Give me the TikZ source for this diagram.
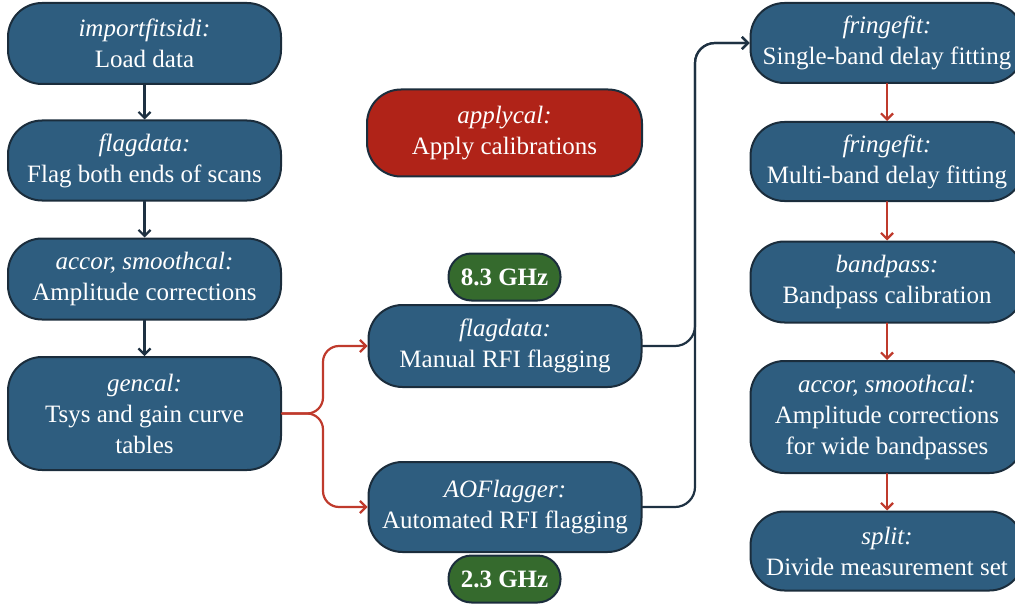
\documentclass[tikz,border=0pt]{standalone}
\usepackage{fontspec}
\setmainfont{Liberation Serif}
\usetikzlibrary{arrows.meta}

\definecolor{boxblue}{HTML}{2E5D7F}
\definecolor{boxedge}{HTML}{1B2D3C}
\definecolor{boxred}{HTML}{B02318}
\definecolor{boxgreen}{HTML}{356A2D}
\definecolor{linkred}{HTML}{BF3A2C}
\definecolor{linkdark}{HTML}{1E3142}

\tikzset{
  stage/.style={draw=boxedge, line width=2pt, fill=boxblue, text=white,
    rounded corners=34pt, minimum width=273pt, inner sep=0pt, align=center,
    font=\fontsize{25}{31}\selectfont},
  band/.style={draw=boxedge, line width=2pt, fill=boxgreen, text=white,
    rounded corners=23pt, minimum width=112pt, minimum height=47pt, inner sep=0pt,
    font=\fontsize{25}{30}\selectfont\bfseries},
  linkline/.style={line width=2.2pt, line cap=round},
  tip/.style={-{Straight Barb[length=6pt,width=12pt,line width=2.2pt]}},
  darklink/.style={draw=linkdark, linkline, tip},
  redlink/.style={draw=linkred, linkline, tip},
}

\begin{document}
\begin{tikzpicture}[x=1pt,y=-1pt]
\useasboundingbox (0,0) rectangle (1015,607);
\clip (0,0) rectangle (1015,607);

% left column: loading and a priori calibration
\node[stage, minimum height=81pt] (load) at (144.5,43.5) {\textit{importfitsidi:}\\Load data};
\node[stage, minimum height=80pt] (flagends) at (144.5,160.5) {\textit{flagdata:}\\Flag both ends of scans};
\node[stage, minimum height=81pt] (amp) at (144.5,279) {\textit{accor, smoothcal:}\\Amplitude corrections};
\node[stage, minimum height=113pt] (gencal) at (144.5,413.5) {\textit{gencal:}\\Tsys and gain curve\\tables};

% middle column: applying solutions and RFI flagging
\node[stage, fill=boxred, minimum width=275pt, minimum height=87pt] (apply) at (504.5,133) {\textit{applycal:}\\Apply calibrations};
\node[band] (xband) at (504.5,277) {8.3 GHz};
\node[stage, minimum height=82pt] (manual) at (505,346) {\textit{flagdata:}\\Manual RFI flagging};
\node[stage, minimum height=90pt] (aof) at (505,507) {\textit{AOFlagger:}\\Automated RFI flagging};
\node[band] (sband) at (504.5,579) {2.3 GHz};

% right column: fringe fitting and bandpass
\node[stage, minimum height=80pt] (sbd) at (887,43) {\textit{fringefit:}\\Single-band delay fitting};
\node[stage, minimum height=79pt] (mbd) at (887,161.5) {\textit{fringefit:}\\Multi-band delay fitting};
\node[stage, minimum height=81pt] (bp) at (887,282) {\textit{bandpass:}\\Bandpass calibration};
\node[stage, minimum height=112pt] (wide) at (887,417) {\textit{accor, smoothcal:}\\Amplitude corrections\\for wide bandpasses};
\node[stage, minimum height=79pt] (split) at (887,551) {\textit{split:}\\Divide measurement set};

% left column chain
\draw[darklink] (load) -- (flagends);
\draw[darklink] (flagends) -- (amp);
\draw[darklink] (amp) -- (gencal);

% split into the two flagging paths
\coordinate (fork) at (323,413.5);
\draw[redlink, rounded corners=16pt] (gencal.east) -- (fork) -- (fork |- manual.west) -- (manual.west);
\draw[redlink, rounded corners=16pt] (gencal.east) -- (fork) -- (fork |- aof.west) -- (aof.west);

% both flagging paths merge into fringe fitting
\coordinate (trunk) at (695,43);
\draw[darklink, rounded corners=20pt] (manual.east) -- (trunk |- manual.east) -- (trunk) -- (sbd.west);
\draw[darklink, rounded corners=20pt] (aof.east) -- (trunk |- aof.east) -- (trunk) -- (sbd.west);

% right column chain
\draw[redlink] (sbd) -- (mbd);
\draw[redlink] (mbd) -- (bp);
\draw[redlink] (bp) -- (wide);
\draw[redlink] (wide) -- (split);
\end{tikzpicture}
\end{document}
